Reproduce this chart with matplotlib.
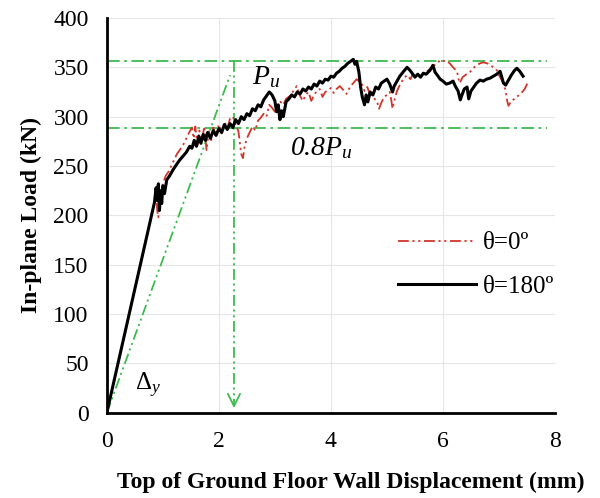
import numpy as np
import matplotlib.pyplot as plt

# theta = 180 deg (black, solid)
disp_180 = [0, 0.3, 0.6, 0.85, 0.88, 0.9, 0.92, 0.94, 0.96, 0.98, 1.0, 1.03, 1.07, 1.12, 1.18,
            1.25, 1.3, 1.36, 1.42, 1.48, 1.52, 1.56, 1.6, 1.64, 1.68, 1.72, 1.76, 1.8, 1.85, 1.9,
            1.95, 2.0, 2.05, 2.1, 2.15, 2.2, 2.25, 2.3, 2.35, 2.4, 2.45, 2.5, 2.55, 2.6, 2.65,
            2.7, 2.75, 2.8, 2.85, 2.9, 2.95, 3.0, 3.03, 3.06, 3.09, 3.12, 3.15, 3.2, 3.25, 3.3,
            3.35, 3.4, 3.45, 3.5, 3.55, 3.6, 3.65, 3.7, 3.75, 3.8, 3.85, 3.9, 3.95, 4.0, 4.05,
            4.1, 4.15, 4.2, 4.25, 4.3, 4.35, 4.4, 4.43, 4.46, 4.5, 4.53, 4.56, 4.6, 4.63, 4.66,
            4.7, 4.75, 4.8, 4.85, 4.9, 4.95, 5.0, 5.05, 5.1, 5.13, 5.18, 5.23, 5.3, 5.36, 5.41,
            5.45, 5.5, 5.55, 5.6, 5.65, 5.7, 5.77, 5.82, 5.86, 5.9, 5.95, 6.0, 6.06, 6.12, 6.18,
            6.22, 6.27, 6.31, 6.34, 6.38, 6.43, 6.46, 6.5, 6.55, 6.6, 6.66, 6.72, 6.78, 6.84,
            6.9, 6.96, 7.02, 7.05, 7.08, 7.12, 7.16, 7.22, 7.28, 7.32, 7.37, 7.43]
load_180 = [0, 75, 150, 213, 228, 215, 232, 205, 225, 212, 230, 222, 236, 240, 246,
            252, 256, 260, 264, 270, 268, 276, 270, 280, 273, 282, 276, 284, 278, 286,
            281, 288, 284, 292, 287, 293, 289, 297, 293, 300, 297, 303, 301, 308, 306,
            312, 310, 317, 321, 325, 322, 316, 305, 312, 297, 306, 300, 315, 318, 322,
            320, 325, 323, 328, 326, 330, 328, 333, 331, 336, 334, 338, 337, 341, 340,
            344, 346, 349, 351, 354, 356, 358, 353, 356, 345, 330, 320, 312, 322, 315,
            325, 322, 330, 328, 334, 336, 338, 333, 325, 331, 336, 341, 346, 350, 347,
            344, 340, 343, 340, 344, 343, 347, 352, 345, 342, 338, 336, 333, 334, 336,
            331, 326, 317, 322, 328, 330, 318, 326, 330, 334, 337, 336, 338, 339,
            341, 343, 346, 340, 334, 332, 336, 342, 347, 349, 346, 341]

# theta = 0 deg (red, dash-dot-dot)
disp_0 = [0, 0.3, 0.6, 0.85, 0.88, 0.9, 0.92, 0.94, 0.97, 1.0, 1.05, 1.1, 1.15, 1.2, 1.25,
          1.3, 1.36, 1.42, 1.48, 1.52, 1.55, 1.58, 1.62, 1.65, 1.7, 1.74, 1.78, 1.82, 1.86,
          1.9, 1.95, 2.0, 2.05, 2.1, 2.15, 2.2, 2.25, 2.3, 2.35, 2.4, 2.43, 2.46, 2.5, 2.55,
          2.6, 2.65, 2.7, 2.75, 2.8, 2.85, 2.9, 2.95, 3.0, 3.05, 3.1, 3.15, 3.2, 3.27, 3.33,
          3.39, 3.44, 3.5, 3.55, 3.6, 3.65, 3.7, 3.75, 3.8, 3.85, 3.9, 3.95, 4.0, 4.05, 4.1,
          4.16, 4.22, 4.28, 4.34, 4.4, 4.46, 4.5, 4.55, 4.6, 4.65, 4.7, 4.76, 4.82, 4.86, 4.9,
          4.95, 5.0, 5.05, 5.08, 5.1, 5.14, 5.18, 5.23, 5.3, 5.36, 5.42, 5.46, 5.52, 5.58,
          5.64, 5.7, 5.76, 5.82, 5.89, 5.95, 6.0, 6.06, 6.12, 6.18, 6.25, 6.28, 6.3, 6.35,
          6.42, 6.48, 6.54, 6.6, 6.66, 6.72, 6.79, 6.85, 6.9, 6.96, 7.0, 7.04, 7.08, 7.12,
          7.15, 7.17, 7.22, 7.28, 7.34, 7.4, 7.46, 7.5, 7.52]
load_0 = [0, 75, 150, 213, 222, 205, 198, 215, 222, 232, 240, 244, 250, 256, 262,
          266, 271, 278, 285, 289, 278, 290, 270, 286, 276, 290, 266, 285, 275,
          289, 280, 292, 283, 295, 288, 298, 300, 292, 285, 262, 258, 270, 278, 284,
          290, 286, 296, 299, 303, 300, 312, 309, 305, 310, 315, 312, 318, 321, 326,
          331, 322, 316, 322, 325, 316, 322, 326, 328, 320, 325, 327, 329, 324, 328,
          331, 327, 323, 330, 334, 338, 336, 333, 326, 330, 322, 319, 316, 308, 314,
          320, 322, 325, 316, 308, 318, 326, 332, 339, 342, 338, 343, 340, 344,
          343, 345, 348, 351, 354, 357, 356, 357, 354, 350, 346, 338, 334, 340,
          343, 345, 349, 352, 354, 355, 354, 352, 350, 347, 342, 338, 334, 326,
          315, 311, 316, 318, 321, 324, 328, 333, 335]

pu = 356          # peak load line
pu80 = 289        # 0.8 Pu line
dy = 2.27         # yield displacement
secant_end = (2.2, 342)

green = '#3dbb4f'
red = '#d0362b'

plt.rcParams['font.family'] = 'Liberation Serif'
plt.rcParams['mathtext.fontset'] = 'custom'
plt.rcParams['mathtext.rm'] = 'Liberation Serif'
plt.rcParams['mathtext.it'] = 'Liberation Serif:italic'

fig = plt.figure(figsize=(6, 4.98), dpi=100)
ax = fig.add_axes([0.178, 0.171, 0.747, 0.793])

ax.grid(True, color='#e6e6e6', lw=0.8)
ax.set_axisbelow(True)

ax.plot([0, 7.85], [pu, pu], color=green, lw=1.3, dashes=(7, 2.5, 1.5, 2.5))
ax.plot([0, 7.85], [pu80, pu80], color=green, lw=1.3, dashes=(7, 2.5, 1.5, 2.5))
ax.plot([0, secant_end[0]], [0, secant_end[1]], color=green, lw=1.3, dashes=(6, 2, 1.2, 2, 1.2, 2))
ax.plot([dy, dy], [pu, 12], color=green, lw=1.3, dashes=(6, 2, 1.2, 2, 1.2, 2))
ax.annotate('', xy=(dy, 2), xytext=(dy, 16),
            arrowprops=dict(arrowstyle='->', color=green, lw=1.3, mutation_scale=22))

ax.plot(disp_0, load_0, color=red, lw=1.3, dashes=(6, 2, 1.2, 2, 1.2, 2), label='θ=0º')
ax.plot(disp_180, load_180, color='black', lw=2.2, label='θ=180º')

ax.text(2.6, 340, r'$P_u$', fontsize=20, va='center', ha='left')
ax.text(3.27, 268, r'0.8$P_u$', fontsize=20, style='italic', va='center', ha='left')
ax.text(0.5, 28, r'$\Delta_y$', fontsize=18, va='center', ha='left')

ax.set_xlim(0, 8)
ax.set_ylim(0, 400)
ax.set_xticks([0, 2, 4, 6, 8])
ax.set_yticks(np.arange(0, 401, 50))
ax.tick_params(length=0, labelsize=17, pad=13)

for s in ['top', 'right']:
    ax.spines[s].set_visible(False)
for s in ['left', 'bottom']:
    ax.spines[s].set_linewidth(2)

ax.set_xlabel('Top of Ground Floor Wall Displacement (mm)', fontsize=17, fontweight='bold')
ax.xaxis.set_label_coords(0.545, -0.177)
ax.xaxis.label.set_va('center')
ax.set_ylabel('In-plane Load (kN)', fontsize=17, fontweight='bold', labelpad=8)

ax.legend(loc='upper left', bbox_to_anchor=(0.6, 0.515), frameon=False, fontsize=18,
          handlelength=3.1, handletextpad=0.3, labelspacing=0.85)

fig.savefig('out.png', dpi=100)
